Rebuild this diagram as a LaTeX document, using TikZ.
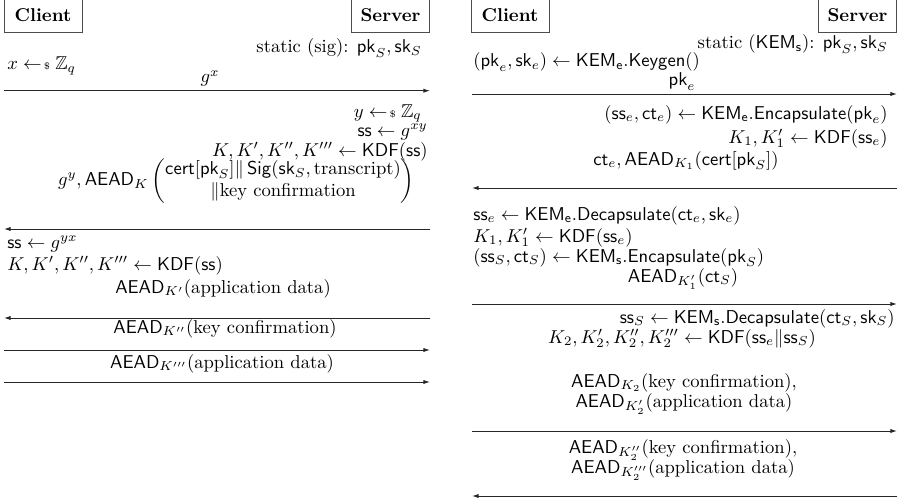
\documentclass[tikz,border=0pt]{standalone}
\usepackage{amsmath,amssymb}
\usetikzlibrary{arrows.meta}
% random sampling arrow
\newcommand{\rsample}{\mathrel{\leftarrow\mkern-3mu{\scriptscriptstyle\$}}}
\newcommand{\sfm}[1]{\mathsf{#1}}
\tikzset{
  party/.style={draw=black!70, line width=0.5pt, inner sep=0pt, minimum width=41.9pt,
                text height=16.1pt, text depth=5.4pt, font=\bfseries},
  msg/.style={draw=black!85, line width=0.5pt, -{Latex[length=3.6pt,width=2.3pt]}},
  lbl/.style={inner sep=0pt},
}
\begin{document}
\begin{tikzpicture}[x=0.5376pt, y=-0.5376pt]
\useasboundingbox (0,0) rectangle (904,503);

% ---------------- signature-based handshake ----------------
\node[party, anchor=base] (cl) at (43,22) {Client};
\node[party, anchor=base] (sv) at (390.5,22) {Server};

\node[lbl, anchor=base east] (stat1) at (422,53) {static (sig): $\sfm{pk}_S,\sfm{sk}_S$};
\node[lbl, anchor=base west] (xs) at (7,70) {$x\rsample\mathbb{Z}_q$};
\node[lbl, anchor=base] (gx) at (210,83) {$g^x$};
\coordinate (a1l) at (4,90.7);  \coordinate (a1r) at (430,90.7);
\draw[msg] (a1l) -- (a1r);

\node[lbl, anchor=base east] (ys) at (422,117) {$y\rsample\mathbb{Z}_q$};
\node[lbl, anchor=base east] (ss1) at (428,136) {$\sfm{ss}\leftarrow g^{xy}$};
\node[lbl, anchor=base east] (kdf1) at (428,156) {$K,K',K'',K'''\leftarrow\sfm{KDF}(\sfm{ss})$};
\node[lbl, anchor=east] (m2) at (415,181) {$g^y,\sfm{AEAD}_K\begin{pmatrix}\sfm{cert}[\sfm{pk}_S]\|\,\sfm{Sig}(\sfm{sk}_S,\text{transcript})\\ \|\text{key confirmation}\end{pmatrix}$};
\coordinate (a2l) at (4,229);  \coordinate (a2r) at (430,229);
\draw[msg] (a2r) -- (a2l);

\node[lbl, anchor=base west] (ss2) at (7,248) {$\sfm{ss}\leftarrow g^{yx}$};
\node[lbl, anchor=base west] (kdf2) at (7,270) {$K,K',K'',K'''\leftarrow\sfm{KDF}(\sfm{ss})$};
\node[lbl, anchor=base] (m3) at (223,293) {$\sfm{AEAD}_{K'}(\text{application data})$};
\coordinate (a3l) at (4,318);  \coordinate (a3r) at (430,318);
\draw[msg] (a3r) -- (a3l);

\node[lbl, anchor=base] (m4) at (225,333) {$\sfm{AEAD}_{K''}(\text{key confirmation})$};
\coordinate (a4l) at (4,350);  \coordinate (a4r) at (430,350);
\draw[msg] (a4l) -- (a4r);

\node[lbl, anchor=base] (m5) at (222,368) {$\sfm{AEAD}_{K'''}(\text{application data})$};
\coordinate (a5l) at (4,382);  \coordinate (a5r) at (430,382);
\draw[msg] (a5l) -- (a5r);

% ---------------- KEM-based handshake ----------------
\node[party, anchor=base] (cl2) at (510,22) {Client};
\node[party, anchor=base] (sv2) at (857.5,22) {Server};

\node[lbl, anchor=base east] (stat2) at (888,49) {static ($\sfm{KEM}_{\sfm{s}}$): $\sfm{pk}_S,\sfm{sk}_S$};
\node[lbl, anchor=base west] (kg) at (473,67) {$(\sfm{pk}_e,\sfm{sk}_e)\leftarrow\sfm{KEM}_{\sfm{e}}.\sfm{Keygen}()$};
\node[lbl, anchor=base] (pke) at (682,86) {$\sfm{pk}_e$};
\coordinate (b1l) at (472,94);  \coordinate (b1r) at (897,94);
\draw[msg] (b1l) -- (b1r);

\node[lbl, anchor=base east] (enc) at (888,119) {$(\sfm{ss}_e,\sfm{ct}_e)\leftarrow\sfm{KEM}_{\sfm{e}}.\sfm{Encapsulate}(\sfm{pk}_e)$};
\node[lbl, anchor=base east] (kdf3) at (888,143) {$K_1,K_1'\leftarrow\sfm{KDF}(\sfm{ss}_e)$};
\node[lbl, anchor=base] (n2) at (686,165) {$\sfm{ct}_e,\sfm{AEAD}_{K_1}(\sfm{cert}[\sfm{pk}_S])$};
\coordinate (b2l) at (472,188);  \coordinate (b2r) at (897,188);
\draw[msg] (b2r) -- (b2l);

\node[lbl, anchor=base west] (dec) at (473,220) {$\sfm{ss}_e\leftarrow\sfm{KEM}_{\sfm{e}}.\sfm{Decapsulate}(\sfm{ct}_e,\sfm{sk}_e)$};
\node[lbl, anchor=base west] (kdf4) at (473,242) {$K_1,K_1'\leftarrow\sfm{KDF}(\sfm{ss}_e)$};
\node[lbl, anchor=base west] (encs) at (473,262) {$(\sfm{ss}_S,\sfm{ct}_S)\leftarrow\sfm{KEM}_{\sfm{s}}.\sfm{Encapsulate}(\sfm{pk}_S)$};
\node[lbl, anchor=base] (n3) at (683,282) {$\sfm{AEAD}_{K_1'}(\sfm{ct}_S)$};
\coordinate (b3l) at (472,304);  \coordinate (b3r) at (897,304);
\draw[msg] (b3l) -- (b3r);

\node[lbl, anchor=base east] (decs) at (895,323) {$\sfm{ss}_S\leftarrow\sfm{KEM}_{\sfm{s}}.\sfm{Decapsulate}(\sfm{ct}_S,\sfm{sk}_S)$};
\node[lbl, anchor=base] (kdf5) at (682,343) {$K_2,K_2',K_2'',K_2'''\leftarrow\sfm{KDF}(\sfm{ss}_e\|\sfm{ss}_S)$};
\node[lbl, anchor=base] (n4a) at (684,387) {$\sfm{AEAD}_{K_2}(\text{key confirmation}),$};
\node[lbl, anchor=base] (n4b) at (684,407) {$\sfm{AEAD}_{K_2'}(\text{application data})$};
\coordinate (b4l) at (472,431);  \coordinate (b4r) at (897,431);
\draw[msg] (b4l) -- (b4r);

\node[lbl, anchor=base] (n5a) at (683,453) {$\sfm{AEAD}_{K_2''}(\text{key confirmation}),$};
\node[lbl, anchor=base] (n5b) at (683,473) {$\sfm{AEAD}_{K_2'''}(\text{application data})$};
\coordinate (b5l) at (472,496);  \coordinate (b5r) at (897,496);
\draw[msg] (b5r) -- (b5l);
\end{tikzpicture}
\end{document}
